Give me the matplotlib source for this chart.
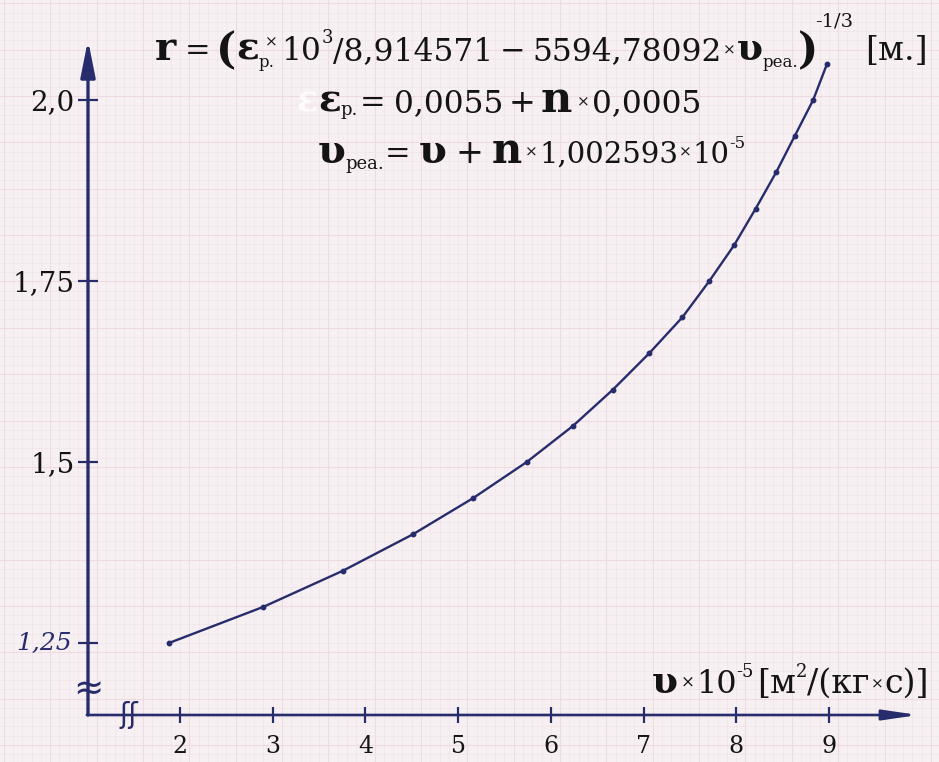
import matplotlib
matplotlib.use("Agg")
import matplotlib.pyplot as plt
import numpy as np

plt.rcParams['font.family'] = ['DejaVu Serif']

# points: v x10^-5 and r [m]
v_values = [1.88, 2.90, 3.76, 4.51, 5.16, 5.74, 6.24, 6.67, 7.06,
            7.42, 7.71, 7.98, 8.21, 8.43, 8.63, 8.83, 8.98]
r_values = [1.25, 1.30, 1.35, 1.40, 1.45, 1.50, 1.55, 1.60, 1.65,
            1.70, 1.75, 1.80, 1.85, 1.90, 1.95, 2.00, 2.05]

x_ticks = [2, 3, 4, 5, 6, 7, 8, 9]
x_tick_labels = ['2', '3', '4', '5', '6', '7', '8', '9']
y_ticks = [1.25, 1.5, 1.75, 2.0]
y_tick_labels = ['', '1,5', '1,75', '2,0']

INK = '#141414'
NAVY = '#272c6c'
PAPER = '#f7f0f2'

W, H = 939, 762

# (text, size, bold, dy px, gap px)
formula = [
    ("r", 29, True, 0, 8),
    ("=", 22, False, 0, 6),
    ("(", 31, True, 3, 0),
    ("ε", 27, True, 0, 0),
    ("р.", 12, False, 7, -10),
    ("×", 11, False, -14, 4),
    ("10", 22.5, False, 0, 0),
    ("3", 13, False, -17, 0),
    ("/8,914571", 22.5, False, 0, 7),
    ("−", 22, False, 0, 7),
    ("5594,78092", 22.5, False, 0, 1),
    ("×", 11, False, -6, 1),
    ("υ", 27, True, 0, 0),
    ("реа.", 12, False, 7, 0),
    (")", 31, True, 3, -4),
    ("-1/3", 14, False, -34, 12),
    ("[м.]", 24, False, 0, 0),
]
eps_line = [
    ("ε", 27, True, 0, 0),
    ("р.", 13, False, 3, 2),
    ("=", 22, False, 0, 8),
    ("0,0055", 22.5, False, 0, 6),
    ("+", 23, False, 0, 5),
    ("n", 31, True, 0, 5),
    ("×", 11, False, -6, 2),
    ("0,0005", 22.5, False, 0, 0),
]
v_line = [
    ("υ", 29, True, 0, 0),
    ("реа.", 13, False, 6, 0),
    ("=", 22, False, 0, 8),
    ("υ", 29, True, 0, 9),
    ("+", 24, False, 0, 9),
    ("n", 30, True, 0, 3),
    ("×", 11, False, -6, 1),
    ("1,002593", 21, False, 0, 1),
    ("×", 11, False, -6, 1),
    ("10", 21, False, 0, 0),
    ("-5", 12, False, -15, 0),
]
x_label = [
    ("υ", 27, True, 0, 3),
    ("×", 12, False, -6, 1),
    ("10", 23, False, 0, 0),
    ("-5", 13, False, -16, 3),
    ("[м", 24, False, 0, 0),
    ("2", 13, False, -16, 0),
    ("/(кг", 24, False, 0, 1),
    ("×", 11, False, -5, 1),
    ("с)]", 24, False, 0, 0),
]


def write_line(ax, renderer, x, y, parts, color=INK):
    for text, size, bold, dy, gap in parts:
        t = ax.text(x, y + dy, text, fontsize=size, color=color,
                    fontweight='bold' if bold else 'normal',
                    ha='left', va='baseline')
        x += t.get_window_extent(renderer).width + gap


def main():
    fig = plt.figure(figsize=(W / 100, H / 100), dpi=100, facecolor=PAPER)
    renderer = fig.canvas.get_renderer()

    # graph paper, pixel units
    bg = fig.add_axes([0, 0, 1, 1], zorder=0)
    bg.set_xlim(0, W)
    bg.set_ylim(H, 0)
    bg.set_facecolor(PAPER)
    bg.axis('off')
    step = 9.27
    for i, xv in enumerate(np.arange(180 - 19 * step, W, step)):
        bg.axvline(xv, color='#f1e4e8' if i % 5 else '#eddbe0', lw=0.5 if i % 5 else 0.8)
    for i, yv in enumerate(np.arange(643 - 69 * step, H, step)):
        bg.axhline(yv, color='#f1e4e8' if i % 5 else '#eddbe0', lw=0.5 if i % 5 else 0.8)

    write_line(bg, renderer, 155, 60, formula)
    bg.text(296, 112, "ε", fontsize=25, fontweight='bold', color='#ffffff', alpha=0.8,
            ha='left', va='baseline')
    write_line(bg, renderer, 318, 112, eps_line)
    write_line(bg, renderer, 318, 163, v_line)
    write_line(bg, renderer, 652, 693, x_label)

    ax = fig.add_axes([88 / W, 47 / H, 830 / W, 675 / H], zorder=1)
    ax.patch.set_alpha(0)
    ax.set_xlim(1.0075, 9.961)
    ax.set_ylim(1.1506, 2.0829)
    for s in ax.spines.values():
        s.set_visible(False)

    arrow = dict(arrowstyle='-|>,head_length=1.0,head_width=0.2', lw=2.4, color=NAVY,
                 mutation_scale=22, shrinkA=0, shrinkB=0)
    ax.annotate('', xy=(0, 1), xytext=(0, 0), xycoords='axes fraction', arrowprops=arrow)
    ax.annotate('', xy=(1, 0), xytext=(-0.0014, 0), xycoords='axes fraction',
                arrowprops=dict(arrow, lw=1.9, arrowstyle='-|>,head_length=0.95,head_width=0.14'))

    ax.plot(v_values, r_values, color=NAVY, lw=1.7, solid_capstyle='round')
    ax.plot(v_values, r_values, 'o', color=NAVY, ms=3.2)

    ax.set_xticks(x_ticks)
    ax.set_xticklabels(x_tick_labels)
    ax.set_yticks(y_ticks)
    ax.set_yticklabels(y_tick_labels)
    ax.tick_params(axis='x', direction='inout', length=11, width=1.6, color=NAVY,
                   labelsize=17, pad=9, labelcolor=INK)
    ax.tick_params(axis='y', direction='inout', length=15, width=1.6, color=NAVY,
                   labelsize=20, pad=2, labelcolor=INK)

    # hand-written 1,25 and the axis break marks
    ax.text(-0.02, 1.25, "1,25", transform=ax.get_yaxis_transform(), fontsize=18,
            style='italic', color=NAVY, ha='right', va='center')
    ax.text(0, 1.185, "≈", transform=ax.get_yaxis_transform(), fontsize=26,
            family='DejaVu Sans', color=NAVY, ha='center', va='center')
    ax.text(1.45, 0, "ʃʃ", transform=ax.get_xaxis_transform(), fontsize=20,
            family='DejaVu Sans', color=NAVY, ha='center', va='center')

    fig.savefig('out.png', dpi=100, facecolor=PAPER)


if __name__ == '__main__':
    main()
